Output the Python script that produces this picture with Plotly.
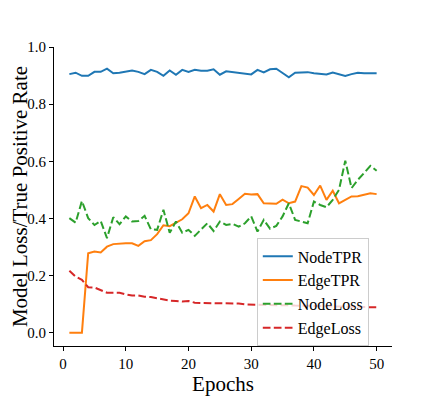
import plotly.graph_objects as go

epochs = list(range(1, 51))

node_tpr = [0.905, 0.910, 0.899, 0.899, 0.913, 0.913, 0.924, 0.908, 0.910, 0.913,
            0.918, 0.913, 0.905, 0.920, 0.913, 0.899, 0.918, 0.903, 0.920, 0.913,
            0.920, 0.917, 0.917, 0.922, 0.903, 0.915, 0.912, 0.909, 0.905, 0.904,
            0.920, 0.911, 0.922, 0.924, 0.909, 0.894, 0.910, 0.910, 0.912, 0.908,
            0.905, 0.904, 0.911, 0.905, 0.899, 0.905, 0.910, 0.908, 0.908, 0.908]

edge_tpr = [0.0, 0.0, 0.0, 0.278, 0.284, 0.281, 0.301, 0.310, 0.312, 0.313,
            0.313, 0.304, 0.320, 0.324, 0.345, 0.376, 0.373, 0.385, 0.397, 0.418,
            0.477, 0.436, 0.447, 0.424, 0.485, 0.447, 0.450, 0.468, 0.486, 0.484,
            0.485, 0.453, 0.452, 0.451, 0.466, 0.453, 0.459, 0.513, 0.508, 0.482,
            0.515, 0.465, 0.497, 0.453, 0.465, 0.477, 0.478, 0.483, 0.488, 0.485]

node_loss = [0.401, 0.385, 0.461, 0.401, 0.377, 0.391, 0.331, 0.404, 0.380, 0.407,
             0.389, 0.391, 0.409, 0.362, 0.360, 0.430, 0.350, 0.389, 0.350, 0.360,
             0.339, 0.362, 0.383, 0.356, 0.389, 0.377, 0.381, 0.371, 0.383, 0.407,
             0.354, 0.395, 0.364, 0.374, 0.407, 0.453, 0.395, 0.389, 0.383, 0.459,
             0.447, 0.439, 0.465, 0.500, 0.602, 0.506, 0.535, 0.559, 0.584, 0.567]

edge_loss = [0.217, 0.196, 0.185, 0.159, 0.158, 0.150, 0.140, 0.140, 0.140, 0.134,
             0.130, 0.130, 0.126, 0.125, 0.120, 0.115, 0.112, 0.111, 0.109, 0.111,
             0.105, 0.104, 0.104, 0.103, 0.102, 0.104, 0.103, 0.102, 0.099, 0.099,
             0.098, 0.098, 0.097, 0.096, 0.097, 0.096, 0.095, 0.095, 0.094, 0.094,
             0.093, 0.093, 0.092, 0.092, 0.091, 0.091, 0.090, 0.090, 0.089, 0.089]

series = [
    ("NodeTPR", node_tpr, "#1f77b4", "solid"),
    ("EdgeTPR", edge_tpr, "#ff7f0e", "solid"),
    ("NodeLoss", node_loss, "#2ca02c", "7.7px,3.3px"),
    ("EdgeLoss", edge_loss, "#d62728", "7.7px,3.3px"),
]

fig = go.Figure()
for name, vals, color, dash in series:
    fig.add_trace(go.Scatter(x=epochs, y=vals, mode="lines", name=name,
                             line=dict(color=color, width=2, dash=dash)))

ff = "Liberation Serif"
# the page body has an 8px default margin, so the figure is 8px smaller and shifted
fig.update_layout(
    width=428, height=388,
    margin=dict(l=46, r=44, t=39, b=50, autoexpand=False),
    paper_bgcolor="white", plot_bgcolor="white",
    font=dict(family=ff, color="black", size=15),
    showlegend=True,
    legend=dict(x=0.6, y=0.36, xanchor="left", yanchor="top",
                bgcolor="rgba(255,255,255,0.8)", bordercolor="#cccccc", borderwidth=1,
                font=dict(family=ff, size=16, color="black"),
                tracegroupgap=0),
    xaxis=dict(range=[-1.45, 52.45], tickvals=[0, 10, 20, 30, 40, 50],
               automargin=False,
               showgrid=False, zeroline=False, showline=True, linecolor="black", linewidth=1,
               ticks="outside", ticklen=4, tickcolor="black",
               tickfont=dict(size=15, family=ff, color="black"),
               title=dict(text="Epochs", font=dict(size=21, family=ff, color="black"), standoff=5)),
    yaxis=dict(range=[-0.0466, 1.0], tickvals=[0, 0.2, 0.4, 0.6, 0.8, 1.0],
               tickformat=".1f", automargin=False,
               showgrid=False, zeroline=False, showline=True, linecolor="black", linewidth=1,
               ticks="outside", ticklen=4, tickcolor="black",
               tickfont=dict(size=15, family=ff, color="black"),
               title=dict(text="Model Loss/True Positive Rate", font=dict(size=21, family=ff, color="black"), standoff=4)),
)

fig.write_html("out.html")
